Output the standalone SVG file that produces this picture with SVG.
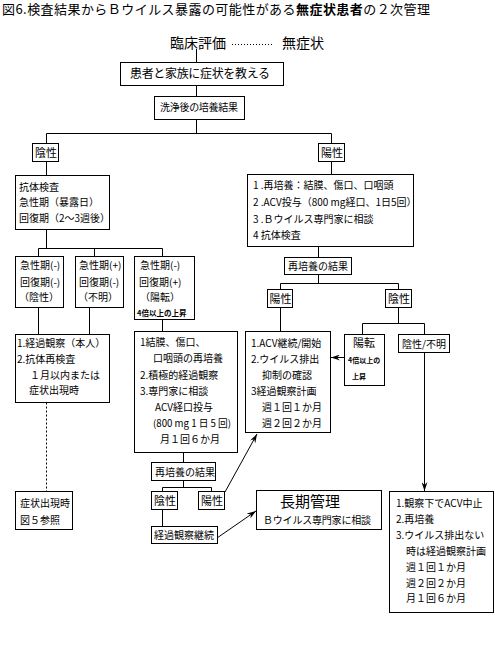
<svg xmlns="http://www.w3.org/2000/svg" width="495" height="654" viewBox="0 0 495 654">
<defs>
<style>
.b{fill:#fff;stroke:#000;stroke-width:1}
.l{fill:none;stroke:#000;stroke-width:1}
.d{fill:none;stroke:#000;stroke-width:1;stroke-dasharray:2 2}
text{font-family:"Noto Sans CJK JP","Noto Sans CJK SC",sans-serif;fill:#000;font-size:10px}
.s{font-size:7.5px;font-weight:bold}
.m{font-size:11px}
</style>
<marker id="ah" markerWidth="9" markerHeight="6" refX="9" refY="3" orient="auto" markerUnits="userSpaceOnUse">
<path d="M0,0 L9,3 L0,6 L3,3 z" fill="#000"/>
</marker>
</defs>
<rect width="495" height="654" fill="#fff"/>
<text x="2" y="14" style="font-size:13px" textLength="428" lengthAdjust="spacing">図6.検査結果からＢウイルス暴露の可能性がある<tspan font-weight="bold">無症状患者</tspan>の２次管理</text>

<g id="connectors">
<line class="d" x1="232" y1="44.5" x2="274" y2="44.5" style="stroke-dasharray:1 2"/>
<line class="l" x1="196.5" y1="49" x2="196.5" y2="62.5"/>
<line class="l" x1="196.5" y1="85.5" x2="196.5" y2="96.5"/>
<line class="l" x1="196.5" y1="119.5" x2="196.5" y2="133.5"/>
<line class="l" x1="46.5" y1="133.5" x2="331.5" y2="133.5"/>
<line class="l" x1="46.5" y1="133.5" x2="46.5" y2="143.5"/>
<line class="l" x1="46.5" y1="161.5" x2="46.5" y2="175.5"/>
<line class="l" x1="46.5" y1="229.5" x2="46.5" y2="248.5"/>
<line class="l" x1="38.5" y1="248.5" x2="162.5" y2="248.5"/>
<line class="l" x1="38.5" y1="248.5" x2="38.5" y2="256.5"/>
<line class="l" x1="94.5" y1="248.5" x2="94.5" y2="256.5"/>
<line class="l" x1="162.5" y1="248.5" x2="162.5" y2="256.5"/>
<line class="l" x1="38.5" y1="307.5" x2="38.5" y2="334.5"/>
<line class="l" x1="89.5" y1="307.5" x2="89.5" y2="334.5"/>
<line class="d" x1="46.5" y1="402.5" x2="46.5" y2="491.5"/>
<line class="l" x1="162.5" y1="319.5" x2="162.5" y2="331.5"/>
<line class="l" x1="183.5" y1="452.5" x2="183.5" y2="462.5"/>
<line class="l" x1="183.5" y1="480.5" x2="183.5" y2="487.5"/>
<line class="l" x1="162.5" y1="487.5" x2="211.5" y2="487.5"/>
<line class="l" x1="162.5" y1="487.5" x2="162.5" y2="491.5"/>
<line class="l" x1="211.5" y1="487.5" x2="211.5" y2="491.5"/>
<line class="l" x1="162.5" y1="509.5" x2="162.5" y2="526.5"/>
<line class="l" x1="225" y1="492" x2="257" y2="434" marker-end="url(#ah)"/>
<line class="l" x1="217" y1="538" x2="256" y2="511" marker-end="url(#ah)"/>
<line class="l" x1="331.5" y1="133.5" x2="331.5" y2="143.5"/>
<line class="l" x1="331.5" y1="161.5" x2="331.5" y2="174.5"/>
<line class="l" x1="318.5" y1="246.5" x2="318.5" y2="257.5"/>
<line class="l" x1="318.5" y1="274.5" x2="318.5" y2="283.5"/>
<line class="l" x1="280.5" y1="283.5" x2="398.5" y2="283.5"/>
<line class="l" x1="280.5" y1="283.5" x2="280.5" y2="289.5"/>
<line class="l" x1="398.5" y1="283.5" x2="398.5" y2="289.5"/>
<line class="l" x1="280.5" y1="307.5" x2="280.5" y2="331.5"/>
<line class="l" x1="398.5" y1="307.5" x2="398.5" y2="323.5"/>
<line class="l" x1="362.5" y1="323.5" x2="424.5" y2="323.5"/>
<line class="l" x1="362.5" y1="323.5" x2="362.5" y2="334.5"/>
<line class="l" x1="424.5" y1="323.5" x2="424.5" y2="334.5"/>
<line class="l" x1="344" y1="357.5" x2="331" y2="357.5" marker-end="url(#ah)"/>
<line class="l" x1="424.5" y1="352.5" x2="424.5" y2="491" marker-end="url(#ah)"/>
</g>

<g id="clinical">
<text x="170" y="48" style="font-size:14px">臨床評価</text>
<text x="282" y="48" style="font-size:14px">無症状</text>
</g>

<g id="teach">
<rect class="b" x="120.5" y="62.5" width="163" height="23"/>
<text x="130" y="78" style="font-size:12px" textLength="140" lengthAdjust="spacing">患者と家族に症状を教える</text>
</g>

<g id="culture">
<rect class="b" x="154.5" y="96.5" width="90" height="23"/>
<text x="160" y="111" style="font-size:10px" textLength="78" lengthAdjust="spacing">洗浄後の培養結果</text>
</g>

<g id="neg1">
<rect class="b" x="32.5" y="143.5" width="26" height="18"/>
<text class="m" x="35" y="156.5">陰性</text>
</g>

<g id="antibody">
<rect class="b" x="15.5" y="175.5" width="94" height="54"/>
<text x="19" y="191">抗体検査</text>
<text x="19" y="206">急性期（暴露日）</text>
<text x="19" y="222">回復期（2～3週後）</text>
</g>

<g id="caseA">
<rect class="b" x="15.5" y="256.5" width="48" height="51"/>
<text x="20" y="269">急性期(-)</text>
<text x="20" y="286">回復期(-)</text>
<text x="19" y="301">（陰性）</text>
</g>

<g id="caseB">
<rect class="b" x="75.5" y="256.5" width="48" height="51"/>
<text x="79" y="269">急性期(+)</text>
<text x="79" y="286">回復期(-)</text>
<text x="78" y="301">（不明）</text>
</g>

<g id="caseC">
<rect class="b" x="134.5" y="256.5" width="60" height="63"/>
<text x="140" y="269">急性期(-)</text>
<text x="139" y="286">回復期(+)</text>
<text x="140" y="301">（陽転）</text>
<text class="s" x="137" y="316">4倍以上の上昇</text>
</g>

<g id="observe">
<rect class="b" x="15.5" y="334.5" width="94" height="68"/>
<text x="17" y="347">1.経過観察（本人）</text>
<text x="17" y="363">2.抗体再検査</text>
<text x="30" y="379">１月以内または</text>
<text x="29" y="394">症状出現時</text>
</g>

<g id="symptom">
<rect class="b" x="15.5" y="491.5" width="57" height="38"/>
<text x="20" y="507">症状出現時</text>
<text x="20" y="524">図５参照</text>
</g>

<g id="recultureC">
<rect class="b" x="134.5" y="331.5" width="103" height="121"/>
<text x="140" y="346">1結膜、傷口、</text>
<text x="153" y="362">口咽頭の再培養</text>
<text x="140" y="379">2.積極的経過観察</text>
<text x="140" y="395">3.専門家に相談</text>
<text x="155" y="411">ACV経口投与</text>
<text x="153" y="427" textLength="78" lengthAdjust="spacingAndGlyphs">(800 mg 1 日 5 回)</text>
<text x="160" y="443">月１回６か月</text>
</g>

<g id="result2">
<rect class="b" x="151.5" y="462.5" width="64" height="18"/>
<text x="155" y="475.5">再培養の結果</text>
</g>

<g id="neg3">
<rect class="b" x="151.5" y="491.5" width="26" height="18"/>
<text class="m" x="154" y="504.5">陰性</text>
</g>

<g id="pos3">
<rect class="b" x="198.5" y="491.5" width="26" height="18"/>
<text class="m" x="201" y="504.5">陽性</text>
</g>

<g id="continue">
<rect class="b" x="151.5" y="526.5" width="66" height="17"/>
<text x="154" y="539">経過観察継続</text>
</g>

<g id="longterm">
<rect class="b" x="256.5" y="490.5" width="125" height="39"/>
<text x="310" y="507" text-anchor="middle" style="font-size:15px">長期管理</text>
<text x="263" y="524" textLength="108" lengthAdjust="spacing">Ｂウイルス専門家に相談</text>
</g>

<g id="pos1">
<rect class="b" x="318.5" y="143.5" width="26" height="18"/>
<text class="m" x="321" y="156.5">陽性</text>
</g>

<g id="actions">
<rect class="b" x="247.5" y="174.5" width="166" height="72"/>
<text x="253" y="189">1 .再培養：結膜、傷口、口咽頭</text>
<text x="253" y="206">2 .ACV投与（800 mg経口、1日5回）</text>
<text x="253" y="223">3 .Ｂウイルス専門家に相談</text>
<text x="253" y="239">4 抗体検査</text>
</g>

<g id="result1">
<rect class="b" x="284.5" y="257.5" width="67" height="17"/>
<text x="288" y="270">再培養の結果</text>
</g>

<g id="pos2">
<rect class="b" x="267.5" y="289.5" width="25" height="18"/>
<text class="m" x="269.5" y="302.5">陽性</text>
</g>

<g id="neg2">
<rect class="b" x="385.5" y="289.5" width="26" height="18"/>
<text class="m" x="388" y="302.5">陰性</text>
</g>

<g id="acv">
<rect class="b" x="245.5" y="331.5" width="85" height="101"/>
<text x="251" y="347">1.ACV継続/開始</text>
<text x="251" y="363">2.ウイルス排出</text>
<text x="262" y="379">抑制の確認</text>
<text x="251" y="395">3経過観察計画</text>
<text x="262" y="411">週１回１か月</text>
<text x="262" y="427">週２回２か月</text>
</g>

<g id="seroconv">
<rect class="b" x="344.5" y="334.5" width="40" height="51"/>
<text class="m" x="353" y="347">陽転</text>
<text class="s" x="348" y="363" style="font-size:7px">4倍以上の</text>
<text class="s" x="352" y="379" style="font-size:7px">上昇</text>
</g>

<g id="negunk">
<rect class="b" x="398.5" y="334.5" width="51" height="18"/>
<text x="402" y="347.5">陰性/不明</text>
</g>

<g id="stop">
<rect class="b" x="389.5" y="491.5" width="104" height="121"/>
<text x="396" y="507">1.観察下でACV中止</text>
<text x="396" y="523">2.再培養</text>
<text x="396" y="539">3.ウイルス排出ない</text>
<text x="406" y="555">時は経過観察計画</text>
<text x="406" y="571">週１回１か月</text>
<text x="406" y="587">週２回２か月</text>
<text x="406" y="602">月１回６か月</text>
</g>
</svg>
